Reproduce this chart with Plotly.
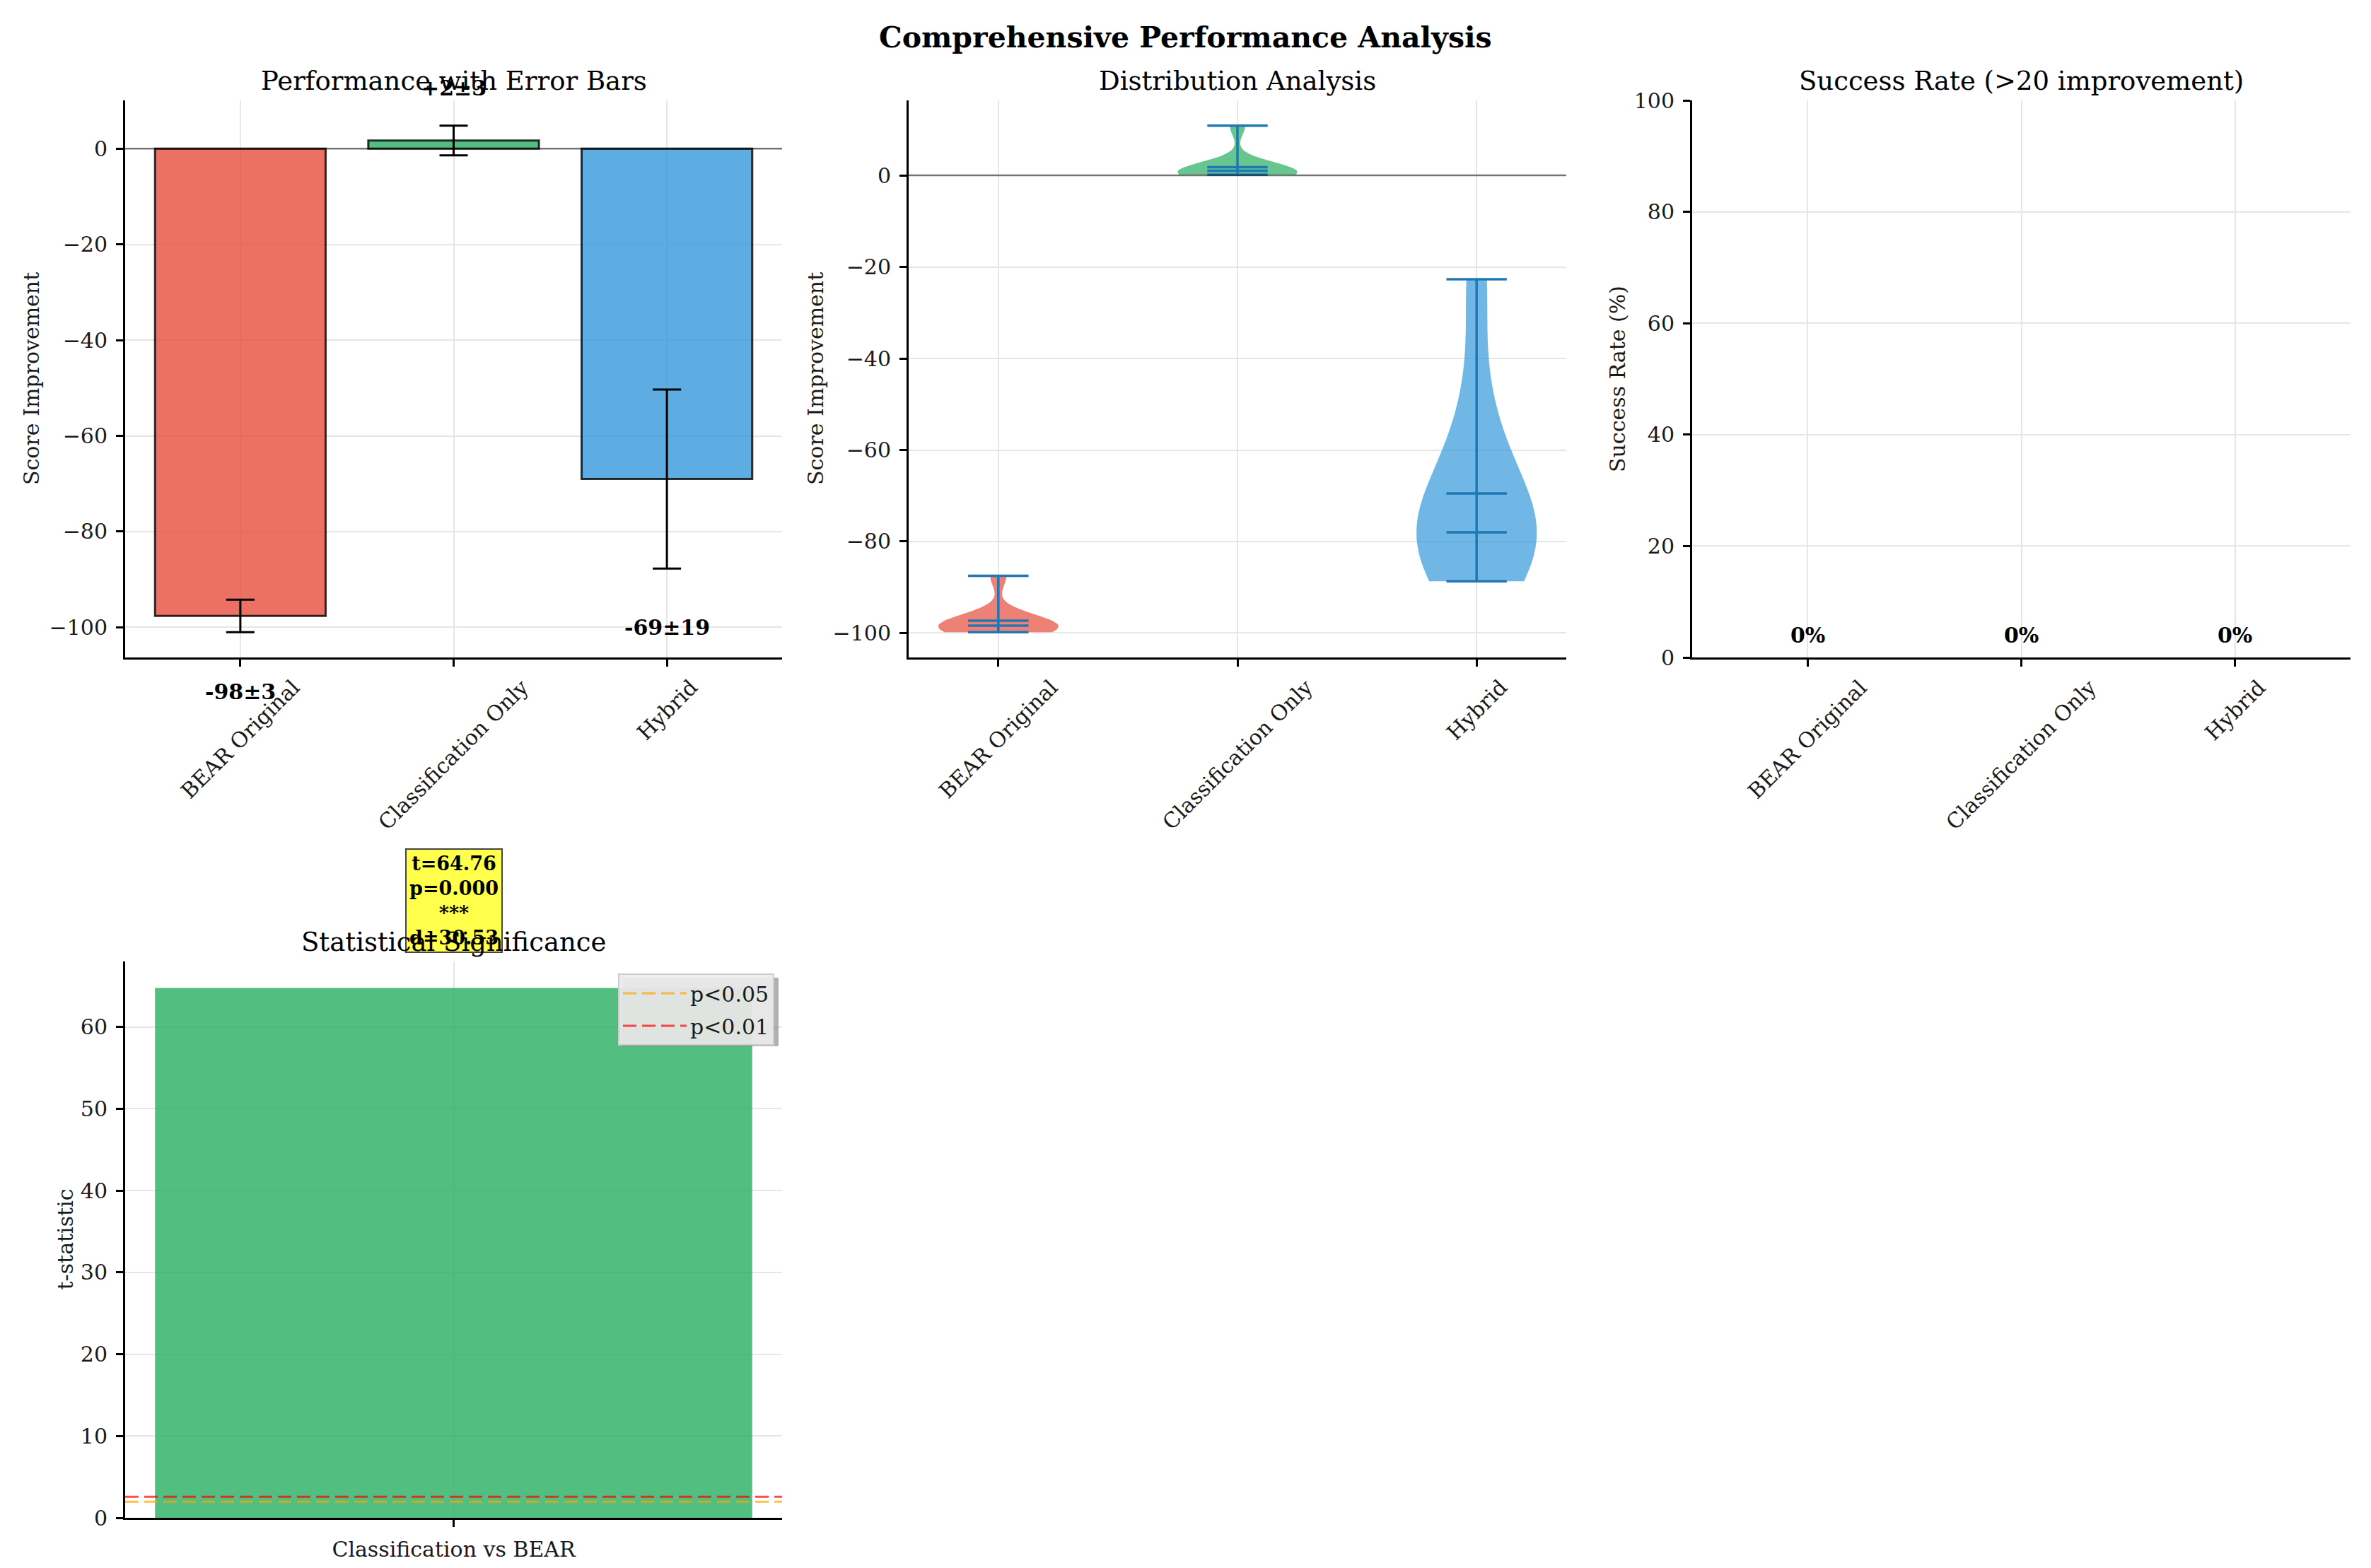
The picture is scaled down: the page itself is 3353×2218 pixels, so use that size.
import numpy as np
import plotly.graph_objects as go

W, H = 3353, 2218
BODY = 8  # default page margin around the plot div
FONT = "DejaVu Serif"
INK = "#1a1a1a"
GRID = "#e6e6e6"
VIOLIN_LINE = "#1f77b4"

# ---- data ----
methods = ["BEAR Original", "Classification Only", "Hybrid"]
method_colors = [(231, 76, 60), (39, 174, 96), (52, 152, 219)]
mean_scores = [-97.6, 1.7, -69.0]
std_scores = [3.4, 3.1, 18.7]
success_rates = [0.0, 0.0, 0.0]

bear_scores = [-99.8, -99.5, -99.2, -98.8, -98.4, -98.0, -97.6, -97.0, -87.5]
classification_scores = [0.15, 0.2, 0.3, 0.5, 1.0, 1.0, 1.05, 1.15, 10.85]
hybrid_scores = [-88.7, -84.0, -81.0, -79.0, -78.0, -72.0, -68.0, -52.0, -22.7]
score_samples = [bear_scores, classification_scores, hybrid_scores]

comparisons = ["Classification vs BEAR"]
t_stats = [64.76]
p_values = [0.0]
cohens_d = [30.53]
threshold_values = [1.96, 2.58]
threshold_names = ["p<0.05", "p<0.01"]
threshold_colors = ["orange", "red"]


def rgba(c, a):
    return f"rgba({c[0]},{c[1]},{c[2]},{a})"


def xp(px):
    return (px - BODY) / W


def yp(py):
    return 1 - (py - BODY) / H


# panel boxes in screen pixels: (left, right, top, bottom)
boxes = {
    1: (177, 1106, 142, 930),
    2: (1285, 2215, 142, 930),
    3: (2393, 3324, 142, 930),
    4: (177, 1106, 1360, 2147),
}
# legend box in screen pixels (left, right, top, bottom)
legend_box = (874, 1095, 1377, 1474)

fig = go.Figure()
pos = list(range(len(methods)))

# 1) performance bars with error bars
fig.add_trace(go.Bar(
    x=pos, y=mean_scores, width=0.8,
    marker=dict(color=[rgba(c, 0.8) for c in method_colors],
                line=dict(color="rgba(0,0,0,0.8)", width=3)),
    error_y=dict(type="data", array=std_scores, color="black", thickness=3, width=20),
    xaxis="x", yaxis="y", showlegend=False, hoverinfo="skip",
))

# 2) violins (matplotlib-like: scott bandwidth, cut at extrema)
for i, (scores, c) in enumerate(zip(score_samples, method_colors)):
    arr = np.array(scores)
    bw = arr.std(ddof=1) * len(arr) ** (-1 / 5)
    p = i + 1
    fig.add_trace(go.Violin(
        x0=p, y=scores, width=0.5, bandwidth=bw, spanmode="hard",
        fillcolor=rgba(c, 0.7), line=dict(width=0), points=False,
        box=dict(visible=False), meanline=dict(visible=False),
        xaxis="x2", yaxis="y2", showlegend=False, hoverinfo="skip",
    ))
    fig.add_trace(go.Scatter(
        x=[p, p], y=[arr.min(), arr.max()], mode="lines",
        line=dict(color=VIOLIN_LINE, width=3.5),
        xaxis="x2", yaxis="y2", showlegend=False, hoverinfo="skip",
    ))
    fig.add_trace(go.Scatter(
        x=[p] * 4, y=[arr.min(), arr.max(), arr.mean(), np.median(arr)],
        mode="markers",
        marker=dict(symbol="line-ew", size=61, line=dict(color=VIOLIN_LINE, width=3.5)),
        xaxis="x2", yaxis="y2", showlegend=False, hoverinfo="skip",
    ))

# 3) success rate bars
fig.add_trace(go.Bar(
    x=pos, y=success_rates, width=0.8,
    marker=dict(color=[rgba(c, 0.8) for c in method_colors], line=dict(width=0)),
    xaxis="x3", yaxis="y3", showlegend=False, hoverinfo="skip",
))

# 4) t statistic
cpos = list(range(len(comparisons)))
fig.add_trace(go.Bar(
    x=cpos, y=t_stats, width=0.8,
    marker=dict(color=rgba(method_colors[1], 0.8), line=dict(width=0)),
    xaxis="x4", yaxis="y4", showlegend=False, hoverinfo="skip",
))

# zero lines
for ax in ("", "2"):
    fig.add_shape(type="line", xref=f"x{ax} domain", x0=0, x1=1, yref=f"y{ax}", y0=0, y1=0,
                  line=dict(color="rgba(0,0,0,0.5)", width=2.5), layer="above")

# significance thresholds
for k, (val, name, col) in enumerate(zip(threshold_values, threshold_names, threshold_colors)):
    fig.add_shape(type="line", xref="x4 domain", x0=0, x1=1, yref="y4", y0=val, y1=val,
                  line=dict(color=col, width=3, dash="19px,8px"), opacity=0.7,
                  layer="above", showlegend=True, name=name, legendgroup=f"g{k}")

# legend drop shadow
ll, lr, lt, lb = legend_box
fig.add_shape(type="rect", xref="paper", yref="paper",
              x0=xp(ll + 6), x1=xp(lr + 6), y0=yp(lb + 6), y1=yp(lt + 6),
              fillcolor="rgba(80,80,80,0.45)", line=dict(width=0), layer="above")

# ---- axes ----
lo = min(m - s for m, s in zip(mean_scores, std_scores))
hi = max(m + s for m, s in zip(mean_scores, std_scores))
pad1 = 0.05 * (hi - lo)
vlo = min(min(s) for s in score_samples)
vhi = max(max(s) for s in score_samples)
pad2 = 0.05 * (vhi - vlo)

ranges = {
    1: ([-0.54, len(methods) - 1 + 0.54], [lo - pad1, hi + pad1], 20),
    2: ([0.625, len(methods) + 0.375], [vlo - pad2, vhi + pad2], 20),
    3: ([-0.54, len(methods) - 1 + 0.54], [0, 100], 20),
    4: ([-0.44, len(comparisons) - 1 + 0.44], [0, max(t_stats) * 1.05], 10),
}


def yfrac(n, v):
    r0, r1 = ranges[n][1]
    return (v - r0) / (r1 - r0)


axis_common = dict(
    showgrid=True, gridcolor=GRID, gridwidth=2, zeroline=False,
    showline=True, linecolor="black", linewidth=3, automargin=False,
    ticks="outside", ticklen=10, tickwidth=2.5, tickcolor="black",
    tickfont=dict(family=FONT, size=30, color=INK), ticklabelstandoff=6,
)

for n, (l, r, t, b) in boxes.items():
    xr, yr, dt = ranges[n]
    sx = "" if n == 1 else str(n)
    if n == 2:
        tv = [p + 1 for p in pos]
    elif n == 4:
        tv = cpos
    else:
        tv = pos
    xax = dict(axis_common, domain=[xp(l), xp(r)], range=xr, anchor=f"y{sx}",
               tickvals=tv, showticklabels=(n == 4))
    if n == 4:
        xax["ticktext"] = comparisons
    yax = dict(axis_common, domain=[yp(b), yp(t)], range=yr, anchor=f"x{sx}",
               tick0=0, dtick=dt)
    fig.update_layout({f"xaxis{sx}": xax, f"yaxis{sx}": yax})

# ---- annotations ----
ann = []

# statistics box (drawn before the title so the title sits on top)
for i, (t, p, d) in enumerate(zip(t_stats, p_values, cohens_d)):
    stars = "***" if p < 0.001 else "**" if p < 0.01 else "*" if p < 0.05 else "ns"
    ann.append(dict(
        x=cpos[i], y=yfrac(4, t + 4.3), xref="x4", yref="y4 domain",
        xanchor="center", yanchor="bottom",
        text=f"<b>t={t:.2f}<br>p={p:.3f}<br>{stars}<br>d={d:.2f}</b>",
        font=dict(family=FONT, size=27, color="black"), align="center",
        bgcolor="rgba(255,255,0,0.7)", bordercolor="#444444", borderwidth=2, borderpad=4,
        showarrow=False,
    ))

titles = {
    1: "Performance with Error Bars",
    2: "Distribution Analysis",
    3: "Success Rate (>20 improvement)",
    4: "Statistical Significance",
}
ylabels = {
    1: ("Score Improvement", 133),
    2: ("Score Improvement", 132),
    3: ("Success Rate (%)", 106),
    4: ("t-statistic", 85),
}
for n, (l, r, t, b) in boxes.items():
    ann.append(dict(
        x=xp((l + r) / 2), y=yp(t), xref="paper", yref="paper", yshift=27,
        xanchor="center", yanchor="middle", text=titles[n],
        font=dict(family=FONT, size=37, color="black"), showarrow=False,
    ))
    lab, off = ylabels[n]
    ann.append(dict(
        x=xp(l - off), y=yp((t + b) / 2), xref="paper", yref="paper",
        xanchor="center", yanchor="middle", textangle=-90, text=lab,
        font=dict(family=FONT, size=30, color=INK), showarrow=False,
    ))

# rotated category labels
for n in (1, 2, 3):
    l, r, t, b = boxes[n]
    sx = "" if n == 1 else str(n)
    for i, m in enumerate(methods):
        ann.append(dict(
            x=i + 1 if n == 2 else i, y=yp(b), xref=f"x{sx}", yref="paper", yshift=-22,
            xanchor="center", yanchor="top", textangle=-45, text=m,
            font=dict(family=FONT, size=30, color=INK), showarrow=False,
        ))

# value labels on bars
for i, (m, s) in enumerate(zip(mean_scores, std_scores)):
    txt = f"{m:+.0f}±{s:.0f}" if m >= 0 else f"{m:.0f}±{s:.0f}"
    ann.append(dict(
        x=i, y=yfrac(1, m + s + 5 if m >= 0 else m - s - 9.5), xref="x", yref="y domain",
        xanchor="center", yanchor="bottom" if m >= 0 else "top",
        text=f"<b>{txt}</b>", font=dict(family=FONT, size=30, color="black"),
        showarrow=False,
    ))
for i, rate in enumerate(success_rates):
    ann.append(dict(
        x=i, y=yfrac(3, rate + 1.5), xref="x3", yref="y3 domain",
        xanchor="center", yanchor="bottom",
        text=f"<b>{rate:.0f}%</b>", font=dict(family=FONT, size=30, color="black"),
        showarrow=False,
    ))

ann.append(dict(
    x=xp(W / 2), y=yp(53), xref="paper", yref="paper", xanchor="center", yanchor="middle",
    text="<b>Comprehensive Performance Analysis</b>",
    font=dict(family=FONT, size=41, color="black"), showarrow=False,
))

fig.update_layout(
    width=W, height=H, margin=dict(l=0, r=0, t=0, b=0, autoexpand=False),
    paper_bgcolor="white", plot_bgcolor="white",
    annotations=ann,
    showlegend=True,
    legend=dict(
        x=xp(lr), y=yp(lt), xanchor="right", yanchor="top",
        bgcolor="rgba(236,236,236,0.92)", bordercolor="#cccccc", borderwidth=2,
        font=dict(family=FONT, size=30, color=INK), itemwidth=90, tracegroupgap=4,
    ),
    font=dict(family=FONT),
)

fig.write_html("out.html")
